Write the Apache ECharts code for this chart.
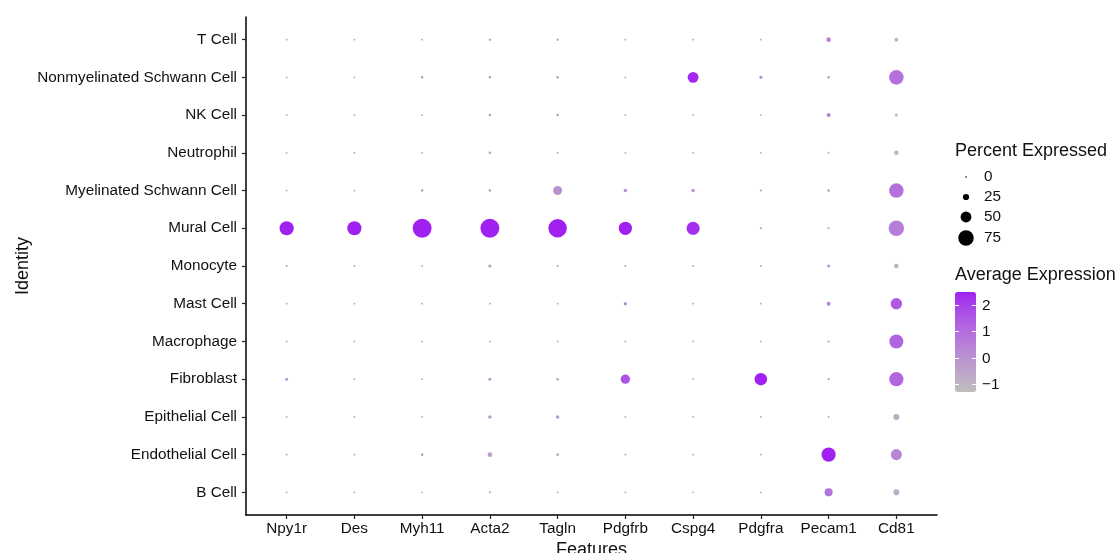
<!DOCTYPE html>
<html>
<head>
<meta charset="utf-8">
<script src="https://cdn.jsdelivr.net/npm/echarts@6/dist/echarts.min.js"></script>
<style>
  html, body { margin: 0; padding: 0; background: #ffffff; }
  #chart { width: 1116px; height: 553px; }
</style>
</head>
<body>
<div id="chart"></div>
<script>
// Identities listed bottom to top, features left to right
const identities = ['B Cell', 'Endothelial Cell', 'Epithelial Cell', 'Fibroblast', 'Macrophage', 'Mast Cell',
  'Monocyte', 'Mural Cell', 'Myelinated Schwann Cell', 'Neutrophil', 'NK Cell',
  'Nonmyelinated Schwann Cell', 'T Cell'];
const features = ['Npy1r', 'Des', 'Myh11', 'Acta2', 'Tagln', 'Pdgfrb', 'Cspg4', 'Pdgfra', 'Pecam1', 'Cd81'];

// Percent of cells expressing each feature (rows follow identities)
const percentExpressed = [
  [1, 1, 1, 3, 1, 1, 1, 1, 35, 24],
  [1, 1, 5, 16, 5, 1, 1, 1, 68, 51],
  [1, 1, 1, 10, 10, 1, 1, 1, 2, 24],
  [8, 1, 1, 8, 5, 42, 1, 59, 3, 68],
  [1, 1, 1, 1, 1, 1, 1, 1, 3, 67],
  [1, 1, 1, 1, 1, 10, 1, 1, 13, 53],
  [2, 2, 1, 8, 3, 1, 1, 1, 8, 16],
  [68, 68, 93, 93, 91, 63, 62, 3, 3, 75],
  [1, 1, 5, 5, 40, 10, 10, 3, 5, 70],
  [1, 1, 1, 5, 1, 1, 1, 1, 2, 16],
  [1, 1, 1, 5, 5, 1, 1, 1, 13, 8],
  [1, 1, 5, 5, 5, 1, 50, 8, 5, 70],
  [1, 1, 1, 4, 4, 1, 1, 1, 16, 13]
];

// Scaled average expression (rows follow identities)
const averageExpression = [
  [-0.3, -0.3, -0.3, -0.3, -0.3, -0.3, -0.3, -0.3, 0.8, -0.8],
  [-0.3, -0.3, -0.2, -0.4, -0.2, -0.3, -0.3, -0.3, 2.5, 0.4],
  [-0.3, -0.3, -0.3, -0.1, -0.1, -0.3, -0.3, -0.3, -0.3, -0.7],
  [-0.1, -0.3, -0.3, -0.2, -0.2, 1.6, -0.3, 2.5, -0.4, 1.2],
  [-0.3, -0.3, -0.3, -0.3, -0.3, -0.3, -0.3, -0.3, -0.3, 1.2],
  [-0.3, -0.3, -0.3, -0.3, -0.3, 0.2, -0.3, -0.3, 0.3, 1.5],
  [-0.3, -0.3, -0.3, -0.3, -0.3, -0.3, -0.3, -0.3, 0.0, -1.0],
  [2.5, 2.5, 2.5, 2.5, 2.5, 2.5, 2.3, -0.3, -0.4, 0.6],
  [-0.3, -0.3, -0.2, -0.2, 0.0, 0.0, 0.0, -0.2, -0.3, 0.9],
  [-0.3, -0.3, -0.3, -0.3, -0.3, -0.3, -0.3, -0.3, -0.3, -1.0],
  [-0.3, -0.3, -0.3, -0.3, -0.3, -0.3, -0.3, -0.3, 0.4, -1.2],
  [-0.3, -0.3, -0.2, -0.2, -0.2, -0.3, 2.4, 0.2, -0.3, 0.9],
  [-0.3, -0.3, -0.3, -0.3, -0.3, -0.3, -0.3, -0.3, 0.4, -1.1]
];

// Legend breaks
const percentBreaks = [0, 25, 50, 75];
const expressionBreaks = [2, 1, 0, -1];
const expressionRange = [-1.3, 2.5];

// Dot diameter grows linearly with percent expressed
function dotSize(pct) { return 1.6 + 0.185 * pct; }

// Colour ramp interpolated in CIELAB between grey and purple
function toLinear(c) { c /= 255; return c <= 0.04045 ? c / 12.92 : Math.pow((c + 0.055) / 1.055, 2.4); }
function toSrgb(c) {
  const v = c <= 0.0031308 ? 12.92 * c : 1.055 * Math.pow(c, 1 / 2.4) - 0.055;
  return Math.round(Math.max(0, Math.min(1, v)) * 255);
}
const WHITE = [0.95047, 1, 1.08883];
function hexToLab(hex) {
  const r = toLinear(parseInt(hex.slice(1, 3), 16));
  const g = toLinear(parseInt(hex.slice(3, 5), 16));
  const b = toLinear(parseInt(hex.slice(5, 7), 16));
  const xyz = [
    0.4124 * r + 0.3576 * g + 0.1805 * b,
    0.2126 * r + 0.7152 * g + 0.0722 * b,
    0.0193 * r + 0.1192 * g + 0.9505 * b
  ];
  const f = xyz.map((v, i) => {
    const t = v / WHITE[i];
    return t > 0.008856 ? Math.cbrt(t) : 7.787 * t + 16 / 116;
  });
  return [116 * f[1] - 16, 500 * (f[0] - f[1]), 200 * (f[1] - f[2])];
}
function labToHex(lab) {
  const fy = (lab[0] + 16) / 116, fx = fy + lab[1] / 500, fz = fy - lab[2] / 200;
  const inv = t => (t * t * t > 0.008856 ? t * t * t : (t - 16 / 116) / 7.787);
  const x = inv(fx) * WHITE[0], y = inv(fy) * WHITE[1], z = inv(fz) * WHITE[2];
  const r = 3.2406 * x - 1.5372 * y - 0.4986 * z;
  const g = -0.9689 * x + 1.8758 * y + 0.0415 * z;
  const b = 0.0557 * x - 0.2040 * y + 1.0570 * z;
  return '#' + [r, g, b].map(v => toSrgb(v).toString(16).padStart(2, '0')).join('');
}
function labRamp(lowHex, highHex, steps) {
  const a = hexToLab(lowHex), b = hexToLab(highHex), out = [];
  for (let i = 0; i < steps; i++) {
    const t = i / (steps - 1);
    out.push(labToHex([0, 1, 2].map(k => a[k] + (b[k] - a[k]) * t)));
  }
  return out;
}
const rampColors = labRamp('#BEBEBE', '#A020F0', 13);

// Build scatter points: [feature index, identity index, percent, average]
const points = [];
identities.forEach((id, yi) => {
  features.forEach((f, xi) => {
    points.push([xi, yi, percentExpressed[yi][xi], averageExpression[yi][xi]]);
  });
});

const FONT = 'Liberation Sans, Arial, sans-serif';
const TEXT = '#111111';
const LABEL_SIZE = 15.3;
const TITLE_SIZE = 18;

// Colour bar placement
const BAR = { left: 955, top: 292, width: 21, height: 100 };
function barY(v) {
  return BAR.top + (expressionRange[1] - v) / (expressionRange[1] - expressionRange[0]) * BAR.height;
}

const graphics = [];
graphics.push({ type: 'text', x: 955, y: 151, style: { text: 'Percent Expressed', font: TITLE_SIZE + 'px ' + FONT, fill: TEXT, verticalAlign: 'middle' } });
const sizeRowY = [177, 197, 217, 238];
percentBreaks.forEach((p, i) => {
  graphics.push({ type: 'circle', shape: { cx: 966, cy: sizeRowY[i], r: dotSize(p) / 2 }, style: { fill: '#000' } });
  graphics.push({ type: 'text', x: 984, y: sizeRowY[i], style: { text: String(p), font: LABEL_SIZE + 'px ' + FONT, fill: TEXT, verticalAlign: 'middle' } });
});
graphics.push({ type: 'text', x: 955, y: 275, style: { text: 'Average Expression', font: TITLE_SIZE + 'px ' + FONT, fill: TEXT, verticalAlign: 'middle' } });
expressionBreaks.forEach(v => {
  const y = Math.round(barY(v)) + 0.5;
  graphics.push({ type: 'line', z: 100, shape: { x1: BAR.left, y1: y, x2: BAR.left + 4, y2: y }, style: { stroke: '#ffffff', lineWidth: 1 } });
  graphics.push({ type: 'line', z: 100, shape: { x1: BAR.left + BAR.width - 4, y1: y, x2: BAR.left + BAR.width, y2: y }, style: { stroke: '#ffffff', lineWidth: 1 } });
  graphics.push({ type: 'text', x: 982, y: y, style: { text: v < 0 ? '\u2212' + Math.abs(v) : String(v), font: LABEL_SIZE + 'px ' + FONT, fill: TEXT, verticalAlign: 'middle' } });
});

const axisLine = { show: true, onZero: false, lineStyle: { color: '#000', width: 1.5 } };
const axisTick = { show: true, length: 4, lineStyle: { color: '#222', width: 1.2 } };

const option = {
  animation: false,
  backgroundColor: '#ffffff',
  grid: { left: 246, right: 179, top: 17, bottom: 38, containLabel: false, outerBoundsMode: 'none' },
  xAxis: {
    type: 'value', min: -0.6, max: 9.6,
    name: 'Features', nameLocation: 'middle', nameGap: 26, nameMoveOverlap: false,
    nameTextStyle: { fontFamily: FONT, fontSize: TITLE_SIZE, color: TEXT },
    axisLine: axisLine,
    axisTick: Object.assign({ customValues: features.map((f, i) => i) }, axisTick),
    axisLabel: {
      customValues: features.map((f, i) => i),
      formatter: v => features[Math.round(v)],
      fontFamily: FONT, fontSize: LABEL_SIZE, color: TEXT, margin: 6
    },
    splitLine: { show: false }
  },
  yAxis: {
    type: 'value', min: -0.6, max: 12.6,
    name: 'Identity', nameLocation: 'middle', nameGap: 214, nameRotate: 90, nameMoveOverlap: false,
    nameTextStyle: { fontFamily: FONT, fontSize: TITLE_SIZE, color: TEXT },
    axisLine: axisLine,
    axisTick: Object.assign({ customValues: identities.map((d, i) => i) }, axisTick),
    axisLabel: {
      customValues: identities.map((d, i) => i),
      formatter: v => identities[Math.round(v)],
      fontFamily: FONT, fontSize: LABEL_SIZE, color: TEXT, margin: 9
    },
    splitLine: { show: false }
  },
  visualMap: {
    type: 'continuous',
    dimension: 3,
    min: expressionRange[0], max: expressionRange[1],
    calculable: false, realtime: false, hoverLink: false,
    left: BAR.left, top: BAR.top,
    itemWidth: BAR.width, itemHeight: BAR.height,
    padding: 0,
    showLabel: false,
    inRange: { color: rampColors },
    seriesIndex: 0
  },
  graphic: graphics,
  series: [{
    type: 'scatter',
    data: points,
    symbol: 'circle',
    symbolSize: val => dotSize(val[2]),
    itemStyle: { opacity: 1 },
    emphasis: { disabled: true },
    silent: true
  }]
};

const chart = echarts.init(document.getElementById('chart'), null, { renderer: 'canvas' });
chart.setOption(option);
</script>
</body>
</html>
